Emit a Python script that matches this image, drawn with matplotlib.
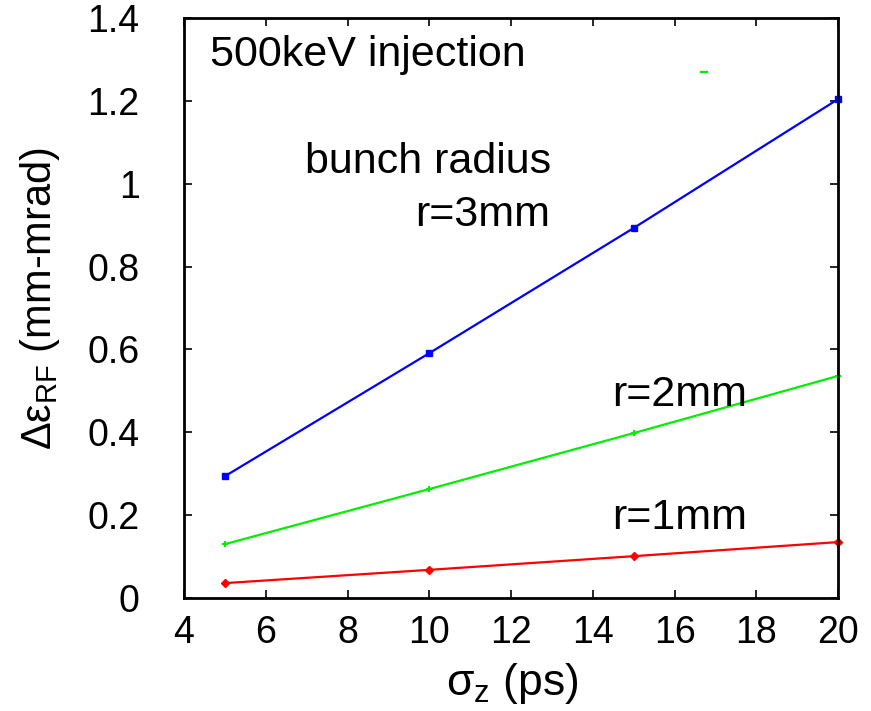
import matplotlib
matplotlib.use("Agg")
import matplotlib.pyplot as plt

plt.rcParams['font.family'] = ['Liberation Sans', 'DejaVu Sans']
plt.rcParams['mathtext.fontset'] = 'custom'
plt.rcParams['mathtext.rm'] = 'Liberation Sans'
plt.rcParams['mathtext.it'] = 'Liberation Sans'

sigma_z = [5, 10, 15, 20]
r3mm = [0.294, 0.591, 0.893, 1.204]
r2mm = [0.130, 0.263, 0.398, 0.536]
r1mm = [0.036, 0.068, 0.101, 0.135]
xticks = [4, 6, 8, 10, 12, 14, 16, 18, 20]
yticks = [0, 0.2, 0.4, 0.6, 0.8, 1.0, 1.2, 1.4]
ytick_labels = ['0', '0.2', '0.4', '0.6', '0.8', '1', '1.2', '1.4']

fig = plt.figure(figsize=(8.71, 7.11), dpi=100)
ax = fig.add_axes([0.2113, 0.1589, 0.9621 - 0.2113, 0.9747 - 0.1589])

ax.plot(sigma_z, r3mm, color='#0000ff', lw=1.6, marker='s', ms=4.5, clip_on=False)
ax.plot(sigma_z, r2mm, color='#00ee00', lw=1.6, marker='+', ms=4.5, mew=1.5, clip_on=False)
ax.plot(sigma_z, r1mm, color='#ff0000', lw=1.6, marker='D', ms=4, clip_on=False)
ax.plot([16.65, 16.8], [1.27, 1.27], color='#00ee00', lw=1.6)

ax.set_xlim(4, 20)
ax.set_ylim(0, 1.4)
ax.set_xticks(xticks)
ax.set_yticks(yticks)
ax.set_yticklabels(ytick_labels)
ax.tick_params(direction='in', top=True, right=True, labelsize=27, length=6, width=1.2)
ax.tick_params(axis='y', pad=32)
ax.tick_params(axis='x', pad=12)
for s in ax.spines.values():
    s.set_linewidth(2)

ax.set_xlabel(r'$\sigma_{\rm z}$ (ps)', fontsize=32)
ax.set_ylabel(r'$\Delta\varepsilon_{\rm RF}$ (mm-mrad)', fontsize=30)
ax.xaxis.set_label_coords(0.502, -0.147)
ax.xaxis.label.set_va('center')
ax.yaxis.set_label_coords(-0.220, 0.517)
ax.yaxis.label.set_va('center')

fs = 31
ax.text(4.64, 1.31, '500keV injection', fontsize=fs, va='center', ha='left')
ax.text(6.96, 1.052, 'bunch radius', fontsize=fs, va='center', ha='left')
ax.text(9.65, 0.924, 'r=3mm', fontsize=fs, va='center', ha='left')
ax.text(14.47, 0.49, 'r=2mm', fontsize=fs, va='center', ha='left')
ax.text(14.47, 0.193, 'r=1mm', fontsize=fs, va='center', ha='left')

fig.savefig('out.png', dpi=100)
